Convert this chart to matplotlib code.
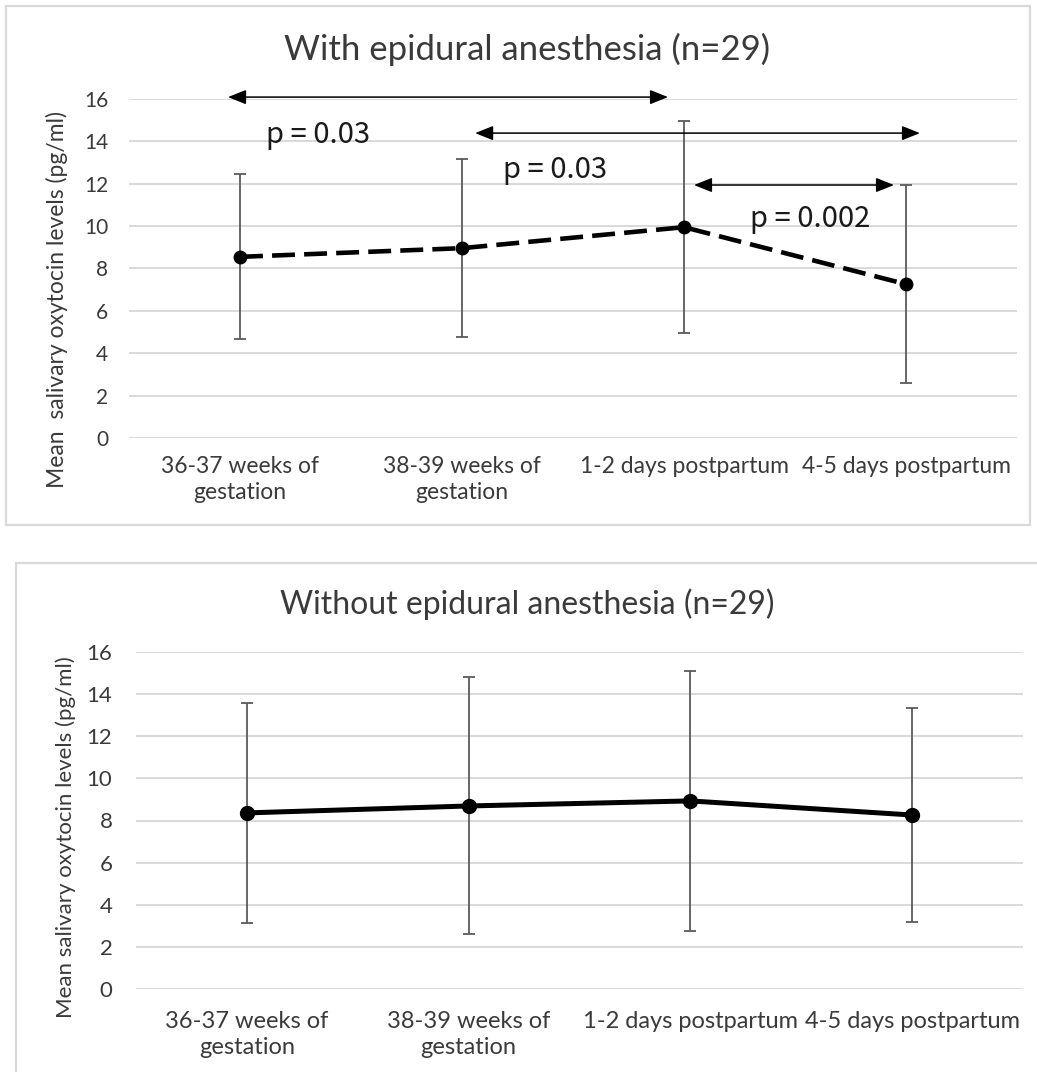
import matplotlib
matplotlib.use("Agg")
import matplotlib.pyplot as plt
from matplotlib.patches import Rectangle

# categories and values
categories = ['36-37 weeks of\ngestation', '38-39 weeks of\ngestation',
              '1-2 days postpartum', '4-5 days postpartum']
yticks = [0, 2, 4, 6, 8, 10, 12, 14, 16]

epi_mean = [8.55, 8.96, 9.95, 7.26]
epi_sd = [3.9, 4.2, 5.0, 4.68]

noepi_mean = [8.36, 8.69, 8.93, 8.26]
noepi_sd = [5.22, 6.1, 6.18, 5.08]

# comparison arrows on the top chart: (x start, x end, y) and p-value labels
arrow_x0 = [-0.054, 1.059, 2.045]
arrow_x1 = [1.928, 3.063, 2.946]
arrow_y = [16.09, 14.39, 11.94]
p_labels = ['p = 0.03', 'p = 0.03', 'p = 0.002']
p_x = [0.35, 1.42, 2.57]
p_y = [14.3, 12.65, 10.33]

W, H = 1037, 1072
fig = plt.figure(figsize=(W / 100, H / 100), dpi=100)
plt.rcParams['font.family'] = ['Lato', 'DejaVu Sans']

TXT = '#3a3a3a'
GRID = '#d9d9d9'


def px_axes(left, right, top, bottom):
    return fig.add_axes([left / W, 1 - bottom / H, (right - left) / W, (bottom - top) / H])


def style_axes(ax, tick_size, cat_size, pad_y, pad_x):
    ax.set_xlim(-0.5, 3.5)
    ax.set_ylim(0, 16)
    ax.set_yticks(yticks)
    ax.set_xticks(range(len(categories)))
    ax.set_xticklabels(categories, fontsize=cat_size, color=TXT, linespacing=1.3)
    ax.tick_params(axis='y', length=0, pad=pad_y, labelsize=tick_size, labelcolor=TXT)
    ax.tick_params(axis='x', length=0, pad=pad_x)
    for s in ax.spines.values():
        s.set_visible(False)
    ax.grid(axis='y', color=GRID, linewidth=1.4)
    ax.set_axisbelow(True)


# panel frames
fig.patches.append(Rectangle((6 / W, 1 - 525 / H), 1024 / W, 519 / H, transform=fig.transFigure,
                             fill=False, edgecolor=GRID, linewidth=1.6))
fig.patches.append(Rectangle((16 / W, 1 - 1080 / H), 1030 / W, 517 / H, transform=fig.transFigure,
                             fill=False, edgecolor=GRID, linewidth=1.6))

# --- top: with epidural ---
ax1 = px_axes(129, 1017, 99, 438)
style_axes(ax1, 15, 16.5, 15, 13)
x = range(len(categories))
ax1.errorbar(x, epi_mean, yerr=epi_sd, fmt='none', ecolor='#5a5a5a', elinewidth=1.3,
             capsize=4, capthick=1.3, zorder=2)
ax1.plot(x, epi_mean, color='black', linewidth=3.3, dashes=(5, 2),
         marker='o', markersize=9, zorder=3)
for xa, xb, ya in zip(arrow_x0, arrow_x1, arrow_y):
    ax1.annotate('', xy=(xb, ya), xytext=(xa, ya), annotation_clip=False,
                 arrowprops=dict(arrowstyle='<|-|>,head_length=0.55,head_width=0.22',
                                 mutation_scale=20, color='black', linewidth=1.1,
                                 shrinkA=0, shrinkB=0))
for lab, xp, yp in zip(p_labels, p_x, p_y):
    ax1.text(xp, yp, lab, ha='center', va='center', fontsize=21, color='#1a1a1a',
             family=['Noto Sans CJK JP', 'DejaVu Sans'])
ax1.set_ylabel('Mean  salivary oxytocin levels (pg/ml)', fontsize=16.5, color=TXT)
ax1.yaxis.set_label_coords(-61 / 888, 0.41)
fig.text(527 / W, 1 - 49 / H, 'With epidural anesthesia (n=29)', ha='center', va='center',
         fontsize=25, color=TXT)

# --- bottom: without epidural ---
ax2 = px_axes(136, 1023, 652, 989)
style_axes(ax2, 16, 17, 17, 16)
ax2.errorbar(x, noepi_mean, yerr=noepi_sd, fmt='none', ecolor='#5a5a5a', elinewidth=1.3,
             capsize=4, capthick=1.3, zorder=2)
ax2.plot(x, noepi_mean, color='black', linewidth=3.6, marker='o', markersize=10, zorder=3)
ax2.set_ylabel('Mean salivary oxytocin levels (pg/ml)', fontsize=16, color=TXT)
ax2.yaxis.set_label_coords(-60 / 887, 0.45)
fig.text(527 / W, 1 - 604 / H, 'Without epidural anesthesia (n=29)', ha='center', va='center',
         fontsize=23, color=TXT)

fig.savefig('out.png', dpi=100)
